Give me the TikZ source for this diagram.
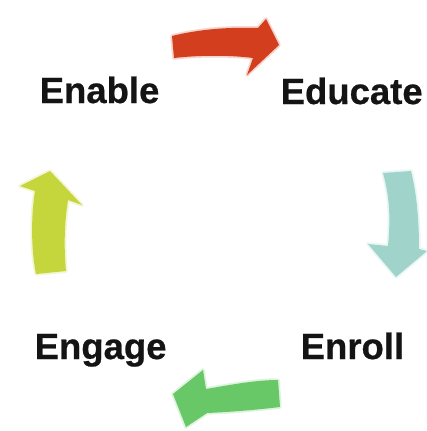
\documentclass[tikz,border=0pt]{standalone}
\usepackage{fontspec}
\setmainfont{Liberation Sans}
\newfontfamily\lblfont{Liberation Sans Bold}[FakeBold=0.6]
\definecolor{arrred}{RGB}{210,62,30}
\definecolor{arrteal}{RGB}{160,212,203}
\definecolor{arrgreen}{RGB}{104,200,104}
\definecolor{arryellow}{RGB}{197,214,60}
\begin{document}
\begin{tikzpicture}[x=1pt,y=-1pt,
  lbl/.style={anchor=base west,inner sep=0pt,font=\lblfont\fontsize{36.5}{44}\selectfont,text=black!92},
  arr/.style={fill=#1,preaction={draw=#1!22,line width=3.5pt,line join=round}}]
\useasboundingbox[fill=white] (0,0) rectangle (427,431);
% labels
\node[lbl] (enable) at (39.5,103) {Enable};
\node[lbl] (educate) at (280.5,104) {Educate};
\node[lbl] (engage) at (34.5,359) {Engage};
\node[lbl] (enroll) at (300.5,359) {Enroll};
% red arrow (top)
\path[arr=arrred] (172,36) .. controls (200,29) and (230,27) .. (258,28)
  -- (266,19) -- (279,45) -- (247,75) -- (253,58)
  .. controls (230,55) and (200,55) .. (174,58) -- cycle;
% teal arrow (right)
\path[arr=arrteal] (383,173) -- (411,171) .. controls (417,195) and (419,222) .. (419,249)
  -- (427,251) -- (396,277) -- (368,244) -- (388,246)
  .. controls (391,215) and (389,195) .. (383,173) -- cycle;
% green arrow (bottom)
\path[arr=arrgreen] (278,380) -- (280,407) .. controls (255,410) and (230,412) .. (207,413)
  -- (186,427) -- (173,394) -- (203,370) -- (206,389)
  .. controls (230,385) and (255,380) .. (278,380) -- cycle;
% yellow arrow (left)
\path[arr=arryellow] (36,274) .. controls (31,250) and (31,215) .. (35,191)
  -- (20,186) -- (50,171) -- (82,205) -- (68,200)
  .. controls (64,225) and (64,250) .. (66,271) -- cycle;
\end{tikzpicture}
\end{document}
